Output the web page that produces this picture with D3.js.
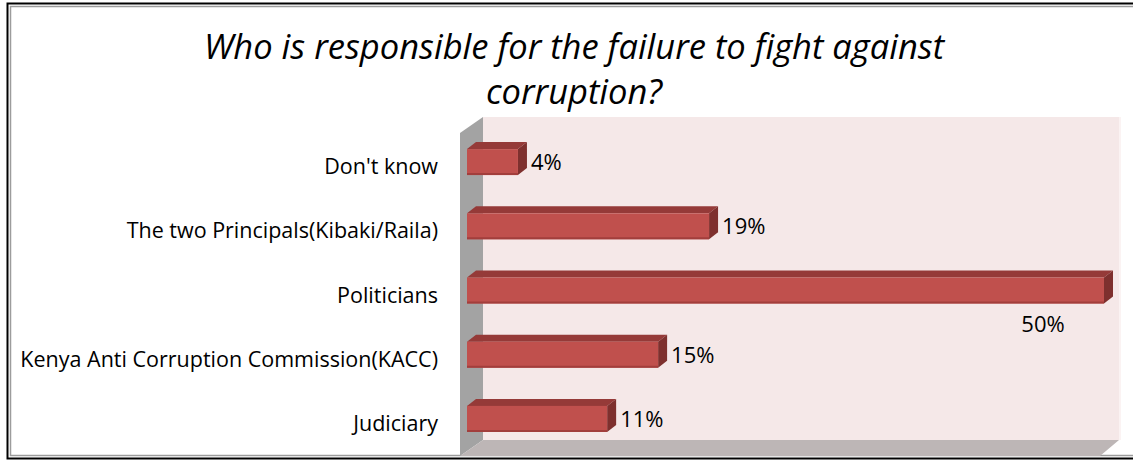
<!DOCTYPE html>
<html>
<head>
<meta charset="utf-8">
<script src="https://cdn.jsdelivr.net/npm/d3@7"></script>
<style>
  body { margin: 0; background: #ffffff; }
  svg { display: block; }
</style>
</head>
<body>
<svg id="chart" width="1133" height="463"></svg>
<script>
// Survey responses: who is blamed for failing to fight corruption
const categories = [
  "Don't know",
  "The two Principals(Kibaki/Raila)",
  "Politicians",
  "Kenya Anti Corruption Commission(KACC)",
  "Judiciary"
];
const values = [4, 19, 50, 15, 11];
const valueLabels = ["4%", "19%", "50%", "15%", "11%"];
const titleLines = ["Who is responsible for the failure to fight against", "corruption?"];
const xDomain = [0, 50];

const svg = d3.select("#chart");
const FONT = "'Open Sans', 'Noto Sans', sans-serif";

// Frame: double border
svg.append("rect")
  .attr("x", 7.5).attr("y", 3.5).attr("width", 1140).attr("height", 455)
  .attr("fill", "#ffffff").attr("stroke", "#000000").attr("stroke-width", 2);
svg.append("rect")
  .attr("x", 10.5).attr("y", 6.5).attr("width", 1134).attr("height", 449)
  .attr("fill", "none").attr("stroke", "#9c9c9c").attr("stroke-width", 1.5);

// Title
const title = svg.append("text")
  .attr("text-anchor", "middle")
  .attr("font-family", FONT)
  .attr("font-style", "italic")
  .attr("font-size", 34.5)
  .attr("fill", "#000");
titleLines.forEach((line, i) => {
  title.append("tspan").attr("x", 574).attr("y", 59 + i * 45).text(line);
});

// 3D plot box geometry
const front = { left: 460, top: 133, bottom: 456 };
const back = { left: 483, right: 1119, top: 117, bottom: 440 };
const floorFrontRight = 1100;

// Back wall
svg.append("rect")
  .attr("x", back.left).attr("y", back.top)
  .attr("width", back.right - back.left).attr("height", back.bottom - back.top)
  .attr("fill", "#f5e8e8");
svg.append("rect")
  .attr("x", back.right).attr("y", back.top)
  .attr("width", 2).attr("height", back.bottom - back.top)
  .attr("fill", "#fbf3f3");

// Side wall
svg.append("path")
  .attr("d", d3.line()([[front.left, front.top], [back.left, back.top], [back.left, back.bottom], [front.left, front.bottom]]) + "Z")
  .attr("fill", "#a3a3a3");

// Floor
svg.append("path")
  .attr("d", d3.line()([[front.left, front.bottom], [back.left, back.bottom], [back.right, back.bottom], [floorFrontRight, front.bottom]]) + "Z")
  .attr("fill", "#bdb6b6");

// Scales
const x = d3.scaleLinear().domain(xDomain).range([467, 1104]);
const y = d3.scaleBand().domain(categories).range([130, 451])
  .paddingInner(0.595).paddingOuter(0.2975);

const depthX = 9, depthY = 7;
const data = categories.map((c, i) => ({ cat: c, value: values[i], label: valueLabels[i] }));

const bars = svg.append("g").selectAll("g").data(data).join("g");

// top face
bars.append("path")
  .attr("d", d => {
    const x0 = x(0), x1 = x(d.value), yt = y(d.cat);
    return d3.line()([[x0, yt], [x0 + depthX, yt - depthY], [x1 + depthX, yt - depthY], [x1, yt]]) + "Z";
  })
  .attr("fill", "#953a38");

// side face
bars.append("path")
  .attr("d", d => {
    const x1 = x(d.value), yt = y(d.cat), yb = yt + y.bandwidth();
    return d3.line()([[x1, yt], [x1 + depthX, yt - depthY], [x1 + depthX, yb - depthY], [x1, yb]]) + "Z";
  })
  .attr("fill", "#7e302e");

// front face
bars.append("rect")
  .attr("x", x(0))
  .attr("y", d => y(d.cat))
  .attr("width", d => x(d.value) - x(0))
  .attr("height", y.bandwidth())
  .attr("fill", "#c0504d");
bars.append("line")
  .attr("x1", x(0)).attr("x2", d => x(d.value))
  .attr("y1", d => y(d.cat) + y.bandwidth() - 1)
  .attr("y2", d => y(d.cat) + y.bandwidth() - 1)
  .attr("stroke", "#a23e3c").attr("stroke-width", 2);

// Value labels
const valueText = bars.append("text")
  .attr("font-family", FONT)
  .attr("font-size", 22)
  .attr("fill", "#000")
  .text(d => d.label);
valueText.each(function (d) {
  const t = d3.select(this);
  const w = this.getComputedTextLength();
  const cy = y(d.cat) + y.bandwidth() / 2;
  const outsideX = x(d.value) + depthX + 4;
  if (outsideX + w > back.right) {
    // no room to the right: sit the label under the bar end
    t.attr("text-anchor", "middle").attr("x", x(d.value) - 61).attr("y", cy + 41);
  } else {
    t.attr("x", outsideX).attr("y", cy + 8);
  }
});

// Category axis labels
svg.append("g").selectAll("text").data(categories).join("text")
  .attr("text-anchor", "end")
  .attr("font-family", FONT)
  .attr("font-size", 21.5)
  .attr("fill", "#000")
  .attr("x", 438)
  .attr("y", d => y(d) + y.bandwidth() / 2 + 12)
  .text(d => d);
</script>
</body>
</html>
